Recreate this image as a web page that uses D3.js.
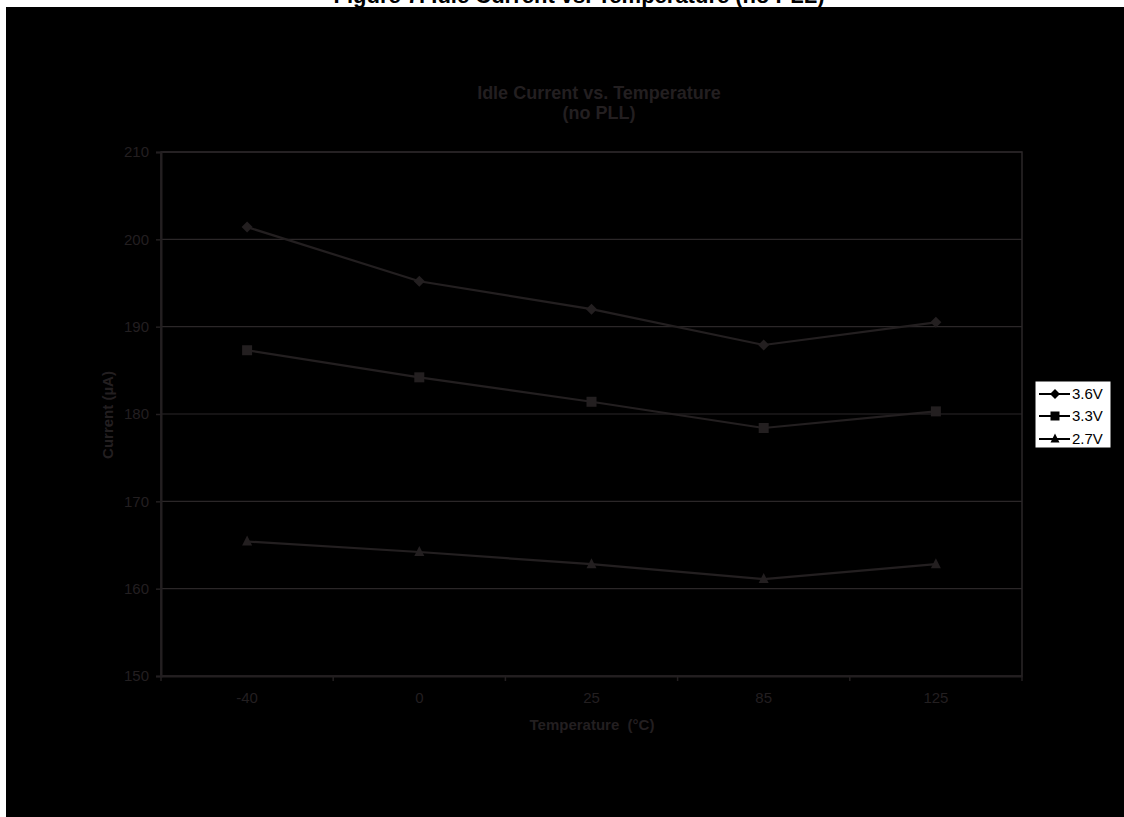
<!DOCTYPE html>
<html><head><meta charset="utf-8">
<script src="https://cdn.jsdelivr.net/npm/d3@7"></script>
<style>html,body{margin:0;padding:0;background:#fff;}svg{display:block;font-family:Arial,"Liberation Sans",sans-serif;}</style>
</head><body>
<script>
const categories = ["-40", "0", "25", "85", "125"];
const seriesNames = ["3.6V", "3.3V", "2.7V"];
const v36 = [201.4, 195.2, 192.0, 187.9, 190.5];
const v33 = [187.3, 184.2, 181.4, 178.4, 180.3];
const v27 = [165.4, 164.2, 162.8, 161.1, 162.8];
const yTicks = [150, 160, 170, 180, 190, 200, 210];
const markerTypes = ["diamond", "square", "triangle"];

const W = 1124, H = 817;
const fg = "#231f20";
const svg = d3.select("body").append("svg").attr("width", W).attr("height", H);

// figure caption (clipped at top)
svg.append("text").attr("x", 579).attr("y", 3).attr("text-anchor", "middle")
  .attr("font-size", 22).attr("font-weight", "bold").attr("fill", "#000")
  .text("Figure 7. Idle Current vs. Temperature (no PLL)");

svg.append("rect").attr("x", 6).attr("y", 7).attr("width", W - 6).attr("height", H - 7).attr("fill", "#000");

const L = 161, R = 1022, T = 152, B = 676;
const x = d3.scaleBand().domain(categories).range([L, R]).padding(0);
const y = d3.scaleLinear().domain([150, 210]).range([B, T]);

// chart title
svg.append("text").attr("x", 599).attr("y", 99).attr("text-anchor", "middle")
  .attr("font-size", 18).attr("font-weight", "bold").attr("fill", fg).text("Idle Current vs. Temperature");
svg.append("text").attr("x", 599).attr("y", 119).attr("text-anchor", "middle")
  .attr("font-size", 18).attr("font-weight", "bold").attr("fill", fg).text("(no PLL)");

// gridlines
svg.append("g").selectAll("line").data(yTicks.slice(1)).join("line")
  .attr("x1", L).attr("x2", R).attr("y1", d => y(d)).attr("y2", d => y(d))
  .attr("stroke", "#2b2728").attr("stroke-width", 1.2);

// plot border
svg.append("rect").attr("x", L).attr("y", T).attr("width", R - L).attr("height", B - T)
  .attr("fill", "none").attr("stroke", "#2b2728").attr("stroke-width", 1.5);

// y axis
const yAxis = d3.axisLeft(y).tickValues(yTicks).tickSize(5).tickPadding(7);
const gy = svg.append("g").attr("transform", `translate(${L},0)`).call(yAxis);
gy.select(".domain").attr("stroke", fg).attr("stroke-width", 2);
gy.selectAll(".tick line").attr("stroke", fg).attr("stroke-width", 1.5);
gy.selectAll(".tick text").attr("fill", fg).attr("font-size", 15).attr("font-family", "Arial, Liberation Sans, sans-serif");

// x axis
const xAxis = d3.axisBottom(x).tickSize(0).tickPadding(16);
const gx = svg.append("g").attr("transform", `translate(0,${B})`).call(xAxis);
gx.select(".domain").attr("stroke", fg).attr("stroke-width", 2);
gx.selectAll(".tick text").attr("fill", fg).attr("font-size", 15).attr("font-family", "Arial, Liberation Sans, sans-serif");
const edges = categories.map(c => x(c)).concat([x(categories[categories.length - 1]) + x.bandwidth()]);
svg.append("g").selectAll("line").data(edges).join("line")
  .attr("x1", d => d).attr("x2", d => d).attr("y1", B).attr("y2", B + 5)
  .attr("stroke", fg).attr("stroke-width", 1.5);

// axis titles
svg.append("text").attr("x", 592).attr("y", 730).attr("text-anchor", "middle")
  .attr("font-size", 15).attr("font-weight", "bold").attr("fill", fg)
  .attr("xml:space", "preserve").style("white-space", "pre").text("Temperature  (°C)");
svg.append("text").attr("transform", "translate(113,415) rotate(-90)").attr("text-anchor", "middle")
  .attr("font-size", 15).attr("font-weight", "bold").attr("fill", fg).text("Current (µA)");

// series
const seriesVals = [v36, v33, v27];
function markerPath(type, s) {
  const h = s / 2;
  if (type === "diamond") return `M0,${-h - 0.5}L${h + 0.5},0L0,${h + 0.5}L${-h - 0.5},0Z`;
  if (type === "square") return `M${-h},${-h}H${h}V${h}H${-h}Z`;
  return `M0,${-h - 1}L${h},${h - 1}L${-h},${h - 1}Z`;
}
const cx = c => x(c) + x.bandwidth() / 2;
const line = d3.line().x((d, i) => cx(categories[i])).y(d => y(d));
seriesVals.forEach((vals, si) => {
  svg.append("path").datum(vals).attr("d", line).attr("fill", "none")
    .attr("stroke", fg).attr("stroke-width", 2.2);
  svg.append("g").selectAll("path").data(vals).join("path")
    .attr("transform", (d, i) => `translate(${cx(categories[i])},${y(d)})`)
    .attr("d", markerPath(markerTypes[si], 10)).attr("fill", fg);
});

// legend
const lg = svg.append("g");
lg.append("rect").attr("x", 1035).attr("y", 381).attr("width", 76).attr("height", 67)
  .attr("fill", "#fff").attr("stroke", "#000").attr("stroke-width", 1);
const legY = [394, 416, 439];
seriesNames.forEach((n, i) => {
  lg.append("line").attr("x1", 1039).attr("x2", 1070).attr("y1", legY[i]).attr("y2", legY[i])
    .attr("stroke", "#000").attr("stroke-width", 2);
  lg.append("path").attr("transform", `translate(1055,${legY[i]})`)
    .attr("d", markerPath(markerTypes[i], 9)).attr("fill", "#000");
  lg.append("text").attr("x", 1072).attr("y", legY[i]).attr("dy", "0.36em")
    .attr("font-size", 15).attr("fill", "#000").text(n);
});
</script>
</body></html>
